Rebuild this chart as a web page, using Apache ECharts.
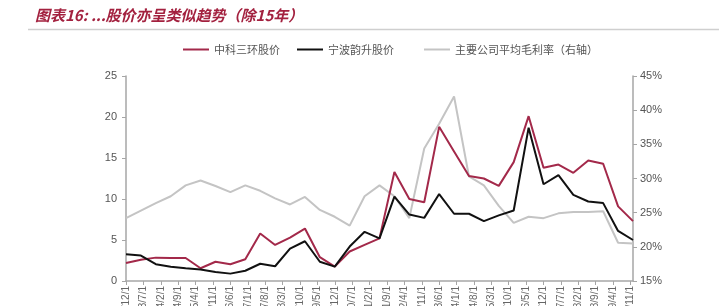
<!DOCTYPE html>
<html><head><meta charset="utf-8">
<script src="https://cdn.jsdelivr.net/npm/echarts@6/dist/echarts.min.js"></script>
<style>html,body{margin:0;padding:0;background:#fff;}#c{width:719px;height:306px;}</style>
</head><body><div id="c"></div>
<script>
// semiannual observation dates
const dates = ['2002/12','2003/6','2003/12','2004/6','2004/12','2005/6','2005/12','2006/6','2006/12','2007/6','2007/12','2008/6','2008/12','2009/6','2009/12','2010/6','2010/12','2011/6','2011/12','2012/6','2012/12','2013/6','2013/12','2014/6','2014/12','2015/6','2015/12','2016/6','2016/12','2017/6','2017/12','2018/6','2018/12','2019/6','2019/12'];
// 中科三环股价
const zksh = [2.2,2.6,2.85,2.8,2.8,1.55,2.35,2.05,2.65,5.8,4.4,5.3,6.4,2.9,1.75,3.6,4.4,5.2,13.3,10.0,9.6,18.8,15.8,12.8,12.5,11.6,14.5,20.1,13.8,14.2,13.2,14.7,14.3,9.1,7.3];
// 宁波韵升股价
const nbys = [3.25,3.1,2.05,1.75,1.55,1.4,1.1,0.9,1.25,2.1,1.8,3.95,4.85,2.35,1.75,4.2,6.0,5.2,10.3,8.1,7.7,10.6,8.2,8.2,7.3,8.0,8.6,18.7,11.8,12.9,10.5,9.7,9.5,6.1,5.0];
// 主要公司平均毛利率（右轴）, %
const margin = [24.2,25.3,26.4,27.4,29.0,29.7,28.9,28.0,29.0,28.2,27.1,26.2,27.3,25.4,24.4,23.1,27.4,29.0,27.4,24.2,34.4,38.0,42.0,30.3,29.0,26.0,23.5,24.4,24.2,24.9,25.1,25.1,25.2,20.6,20.5];
// x-axis tick labels (every 7 months)
const tickLabels = ['2002/12/1','2003/7/1','2004/2/1','2004/9/1','2005/4/1','2005/11/1','2006/6/1','2007/1/1','2007/8/1','2008/3/1','2008/10/1','2009/5/1','2009/12/1','2010/7/1','2011/2/1','2011/9/1','2012/4/1','2012/11/1','2013/6/1','2014/1/1','2014/8/1','2015/3/1','2015/10/1','2016/5/1','2016/12/1','2017/7/1','2018/2/1','2018/9/1','2019/4/1','2019/11/1'];

const base = [2002, 12];
function monthIndex(s){ const p = s.split('/').map(Number); return (p[0]-base[0])*12 + (p[1]-base[1]); }
function labelFor(v){ const t = base[1]-1+v; const y = base[0]+Math.floor(t/12); const m = t%12+1; return y+'/'+m+'/1'; }
const tickVals = tickLabels.map(monthIndex);
const xs = dates.map(monthIndex);
const pair = arr => arr.map((v,i)=>[xs[i], v]);

const axisColor = '#a6a6a6';
const txt = '#555';
const chart = echarts.init(document.getElementById('c'), null, {renderer:'canvas'});
chart.setOption({
  animation:false,
  title:{text:'图表16: ...股价亦呈类似趋势（除15年）', left:35, top:8, padding:0,
    textStyle:{fontSize:15, fontWeight:'bold', fontStyle:'italic', color:'#a3213f', fontFamily:'Noto Sans CJK SC'}},
  graphic:[{type:'line', shape:{x1:28,y1:29.5,x2:719,y2:29.5}, style:{stroke:'#cfcfcf', lineWidth:1.5}}],
  legend:[
    {data:['中科三环股价'], left:183, top:44, padding:0, icon:'rect', itemWidth:26, itemHeight:2,
     textStyle:{fontSize:11, color:txt, fontFamily:'Noto Sans CJK SC'}},
    {data:['宁波韵升股价'], left:297, top:44, padding:0, icon:'rect', itemWidth:26, itemHeight:2,
     textStyle:{fontSize:11, color:txt, fontFamily:'Noto Sans CJK SC'}},
    {data:['主要公司平均毛利率（右轴）'], left:424, top:44, padding:0, icon:'rect', itemWidth:26, itemHeight:2,
     textStyle:{fontSize:11, color:txt, fontFamily:'Noto Sans CJK SC'}}
  ],
  grid:{left:126, right:86, top:76, bottom:25, containLabel:false, outerBoundsMode:'none'},
  xAxis:{type:'value', min:0, max:204,
    axisLine:{show:true, lineStyle:{color:axisColor, width:1.5}},
    axisTick:{show:true, length:4, lineStyle:{color:axisColor}, customValues:tickVals},
    axisLabel:{rotate:90, fontSize:10, color:'#666', margin:5, fontFamily:'Liberation Sans',
      customValues:tickVals, formatter:v=>labelFor(v)},
    splitLine:{show:false}},
  yAxis:[
    {type:'value', min:0, max:25, interval:5, position:'left',
     axisLine:{show:true, lineStyle:{color:axisColor, width:1.5}},
     axisTick:{show:true, length:4, lineStyle:{color:axisColor}},
     axisLabel:{fontSize:11, color:txt, margin:9, fontFamily:'Liberation Sans'},
     splitLine:{show:false}},
    {type:'value', min:15, max:45, interval:5, position:'right',
     axisLine:{show:true, lineStyle:{color:axisColor, width:1.5}},
     axisTick:{show:true, length:4, lineStyle:{color:axisColor}},
     axisLabel:{fontSize:11, color:txt, margin:7, fontFamily:'Liberation Sans', formatter:'{value}%'},
     splitLine:{show:false}}
  ],
  series:[
    {name:'中科三环股价', type:'line', data:pair(zksh), symbol:'none', z:3,
     lineStyle:{color:'#a3294a', width:2}, itemStyle:{color:'#a3294a'}},
    {name:'宁波韵升股价', type:'line', data:pair(nbys), symbol:'none', z:4,
     lineStyle:{color:'#111111', width:2}, itemStyle:{color:'#111111'}},
    {name:'主要公司平均毛利率（右轴）', type:'line', yAxisIndex:1, data:pair(margin), symbol:'none', z:2,
     lineStyle:{color:'#c4c4c4', width:2}, itemStyle:{color:'#c4c4c4'}}
  ]
});
</script></body></html>
